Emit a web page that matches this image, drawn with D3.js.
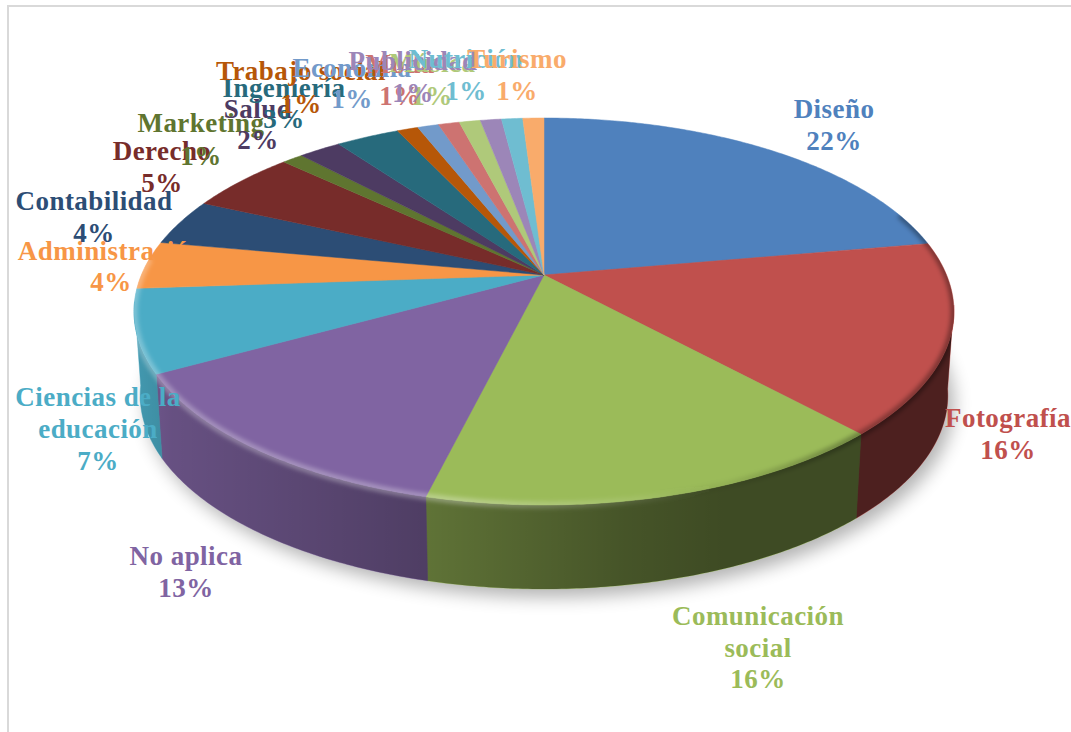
<!DOCTYPE html>
<html>
<head>
<meta charset="utf-8">
<script src="https://d3js.org/d3.v7.min.js"></script>
<style>
  html, body { margin: 0; padding: 0; background: #fff; }
  svg { display: block; }
  .lbl { font-family: "Liberation Serif", serif; font-weight: bold; font-size: 27px; letter-spacing: 0.45px; text-anchor: middle; }
</style>
</head>
<body>
<div id="viz"></div>
<script>
const categories = ['Diseño', 'Fotografía', 'Comunicación social', 'No aplica', 'Ciencias de la educación',
  'Administración', 'Contabilidad', 'Derecho', 'Marketing', 'Salud', 'Ingeniería', 'Trabajo social',
  'Economía', 'Moda', 'Música', 'Publicidad', 'Nutrición', 'Turismo'];
const values = [22.2, 15.9, 15.7, 13.1, 6.9, 4, 3.9, 5.2, 1, 2, 3, 1, 1, 1, 1, 1, 1, 1];
const colors = ['#4f81bd', '#c0504d', '#9bbb59', '#8064a2', '#4bacc6', '#f79646', '#2c4d75', '#772c2a', '#5f7530',
  '#4d3b62', '#276a7c', '#b65708', '#729aca', '#cd7371', '#afc97a', '#9c86b8', '#6fbdd1', '#f9ab6b'];

// label wrapping and where each label sits, by hand since they overlap in the original
const labelLines = [['Diseño'], ['Fotografía'], ['Comunicación', 'social'], ['No aplica'], ['Ciencias de la', 'educación'],
  ['Administración'], ['Contabilidad'], ['Derecho'], ['Marketing'], ['Salud'], ['Ingeniería'], ['Trabajo social'],
  ['Economía'], ['Moda'], ['Música'], ['Publicidad'], ['Nutrición'], ['Turismo']];
const labelX = [834, 1008, 758, 186, 98, 111, 94, 162, 201, 258, 284, 301, 352, 400, 432, 413, 466, 517];
const labelY = [118, 427, 625, 565, 406, 260, 210, 160, 132, 118, 97, 80, 77, 73, 72, 70, 68, 68];
const lineGap = [32, 32, 31.5, 32, 32, 31, 32, 32, 33, 31, 31, 33, 31, 32, 33, 32, 32, 32];

const w = 1071;
const h = 732;
const svg = d3.select('#viz').append('svg').attr('width', w).attr('height', h);

// perspective of the pie: circle (X, Y) goes to an off-centre ellipse round the apex
const apexX = 544, apexY = 275;
const ax = 402.6, ay = 186.6, k = 0.1886;
const depth = 84, shrink = 0.985;

function topPoint(a) {
  const X = Math.sin(a), Y = -Math.cos(a), s = 1 / (1 - k * Y);
  return [apexX + ax * X * s, apexY + ay * Y * s];
}
function bottomPoint(a) {
  const p = topPoint(a);
  return [apexX + (p[0] - apexX) * shrink, p[1] + depth];
}
function arcPoints(a0, a1, fn) {
  const n = Math.max(2, Math.ceil(Math.abs(a1 - a0) / 0.01));
  return d3.range(n + 1).map(i => fn(a0 + (a1 - a0) * i / n));
}

const line = d3.line();
const arcs = d3.pie().sort(null)(values);
const rad = d => d * Math.PI / 180;
const wallFrom = rad(99), wallTo = rad(262);

const defs = svg.append('defs');
defs.append('filter').attr('id', 'soft').attr('x', '-10%').attr('y', '-10%').attr('width', '120%').attr('height', '130%')
  .append('feGaussianBlur').attr('stdDeviation', 9);
defs.append('filter').attr('id', 'bevel').attr('x', '-10%').attr('y', '-10%').attr('width', '120%').attr('height', '130%')
  .append('feGaussianBlur').attr('stdDeviation', 2);

const wallShade = defs.append('linearGradient').attr('id', 'wallShade')
  .attr('gradientUnits', 'userSpaceOnUse').attr('x1', 130).attr('x2', 955).attr('y1', 0).attr('y2', 0);
[[0, 0.1], [0.05, 0.2], [0.35, 0.38], [0.6, 0.55], [0.72, 0.6], [1, 0.6]].forEach(s => {
  wallShade.append('stop').attr('offset', s[0]).attr('stop-color', '#000').attr('stop-opacity', s[1]);
});

const rimShade = defs.append('linearGradient').attr('id', 'rimShade')
  .attr('gradientUnits', 'userSpaceOnUse').attr('x1', 130).attr('x2', 955).attr('y1', 0).attr('y2', 0);
[['#fff', 0, 0.28], ['#fff', 0.4, 0.3], ['#fff', 0.62, 0.08], ['#000', 0.72, 0.05], ['#000', 0.88, 0.3], ['#000', 1, 0.35]].forEach(s => {
  rimShade.append('stop').attr('offset', s[1]).attr('stop-color', s[0]).attr('stop-opacity', s[2]);
});

// keeps the blurred bevel inside the pie
defs.append('clipPath').attr('id', 'pieClip').append('path')
  .attr('d', line(arcPoints(0, 2 * Math.PI, topPoint)) + 'Z' + line(arcPoints(wallFrom, wallTo, topPoint).concat(arcPoints(wallTo, wallFrom, bottomPoint))) + 'Z');

// frame lines top and left
svg.append('path').attr('d', line([[8, h], [8, 6], [w, 6]]))
  .attr('fill', 'none').attr('stroke', '#d9d9d9').attr('stroke-width', 2);

// drop shadow
svg.append('path')
  .attr('d', line(arcPoints(0, 2 * Math.PI, bottomPoint)) + 'Z')
  .attr('transform', 'translate(6,8)')
  .attr('fill', '#000').attr('opacity', 0.3).attr('filter', 'url(#soft)');

// side wall
const wallPath = (a0, a1) => line(arcPoints(a0, a1, topPoint).concat(arcPoints(a1, a0, bottomPoint))) + 'Z';

svg.selectAll('path.wall').data(arcs).enter()
  .filter(d => d.endAngle > wallFrom && d.startAngle < wallTo)
  .append('path').attr('class', 'wall')
  .attr('d', d => wallPath(Math.max(d.startAngle, wallFrom), Math.min(d.endAngle, wallTo)))
  .attr('fill', d => colors[d.index])
  .attr('stroke', d => colors[d.index]).attr('stroke-width', 0.5);

svg.append('path').attr('d', wallPath(wallFrom, wallTo)).attr('fill', 'url(#wallShade)');

// top face
svg.selectAll('path.slice').data(arcs).enter().append('path').attr('class', 'slice')
  .attr('d', d => line([[apexX, apexY]].concat(arcPoints(d.startAngle, d.endAngle, topPoint))) + 'Z')
  .attr('fill', d => colors[d.index])
  .attr('stroke', d => colors[d.index]).attr('stroke-width', 0.5);

// soft bevel round the front rim
svg.append('g').attr('clip-path', 'url(#pieClip)')
  .append('path').attr('d', line(arcPoints(rad(70), rad(275), topPoint)))
  .attr('fill', 'none').attr('stroke', 'url(#rimShade)').attr('stroke-width', 7)
  .attr('filter', 'url(#bevel)');

// labels
const fmt = d3.format('.0f');
const labels = svg.selectAll('text.lbl').data(categories).enter().append('text').attr('class', 'lbl')
  .attr('fill', (d, i) => colors[i]);
labels.each(function (d, i) {
  const t = d3.select(this);
  const rows = labelLines[i].concat([fmt(values[i]) + '%']);
  rows.forEach((r, j) => {
    t.append('tspan').attr('x', labelX[i]).attr('y', labelY[i] + j * lineGap[i]).text(r);
  });
});
</script>
</body>
</html>
